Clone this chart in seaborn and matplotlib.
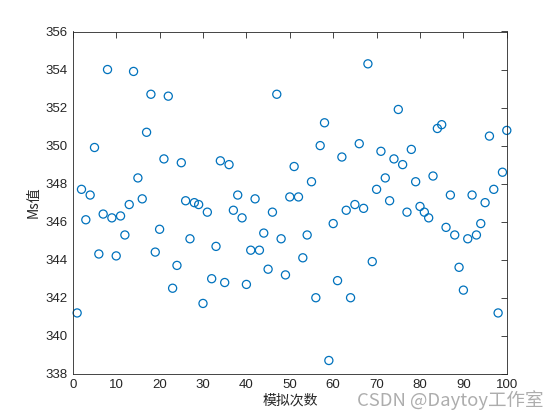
import matplotlib
matplotlib.use("Agg")
import matplotlib.pyplot as plt
import seaborn as sns
import pandas as pd
import numpy as np

runs = list(range(1, 101))
ms_values = [
    341.2, 347.7, 346.1, 347.4, 349.9, 344.3, 346.4, 354.0, 346.2, 344.2,
    346.3, 345.3, 346.9, 353.9, 348.3, 347.2, 350.7, 352.7, 344.4, 345.6,
    349.3, 352.6, 342.5, 343.7, 349.1, 347.1, 345.1, 347.0, 346.9, 341.7,
    346.5, 343.0, 344.7, 349.2, 342.8, 349.0, 346.6, 347.4, 346.2, 342.7,
    344.5, 347.2, 344.5, 345.4, 343.5, 346.5, 352.7, 345.1, 343.2, 347.3,
    348.9, 347.3, 344.1, 345.3, 348.1, 342.0, 350.0, 351.2, 338.7, 345.9,
    342.9, 349.4, 346.6, 342.0, 346.9, 350.1, 346.7, 354.3, 343.9, 347.7,
    349.7, 348.3, 347.1, 349.3, 351.9, 349.0, 346.5, 349.8, 348.1, 346.8,
    346.5, 346.2, 348.4, 350.9, 351.1, 345.7, 347.4, 345.3, 343.6, 342.4,
    345.1, 347.4, 345.3, 345.9, 347.0, 350.5, 347.7, 341.2, 348.6, 350.8,
]
x_ticks = [0, 10, 20, 30, 40, 50, 60, 70, 80, 90, 100]
y_ticks = [338, 340, 342, 344, 346, 348, 350, 352, 354, 356]
x_label = "模拟次数"
y_label = "Ms值"

df = pd.DataFrame({"run": runs, "ms": ms_values})

sns.set_style("white")
plt.rcParams['font.family'] = ['Noto Sans CJK SC', 'DejaVu Sans']

fig = plt.figure(figsize=(5.6, 4.2), dpi=100)
ax = fig.add_axes([0.13, 0.11, 0.775, 0.815])
matlab_blue = (0.0, 0.447, 0.741)
sns.scatterplot(data=df, x="run", y="ms", ax=ax, marker="o", s=34,
                facecolor="none", edgecolor=matlab_blue, linewidth=0.9,
                clip_on=False)

ax.set_xlim(0, 100)
ax.set_ylim(338, 356)
ax.set_xticks(x_ticks)
ax.set_yticks(y_ticks)
axcol = (0.15, 0.15, 0.15)
ax.tick_params(direction="in", top=True, right=True, length=4, width=0.6,
               colors=axcol, labelsize=9.5)
for lab in ax.get_xticklabels() + ax.get_yticklabels():
    lab.set_fontfamily(['Liberation Sans', 'DejaVu Sans'])
for sp in ax.spines.values():
    sp.set_color(axcol)
    sp.set_linewidth(0.6)
ax.set_xlabel(x_label, fontsize=10, color=axcol, labelpad=2)
ax.set_ylabel(y_label, fontsize=10, color=axcol, labelpad=4)

fig.text(0.97, 0.047, "CSDN @Daytoy工作室", ha="right", va="center",
         fontsize=13.3, color=(0.68, 0.68, 0.68))

fig.savefig("out.png", dpi=100, facecolor="white")
